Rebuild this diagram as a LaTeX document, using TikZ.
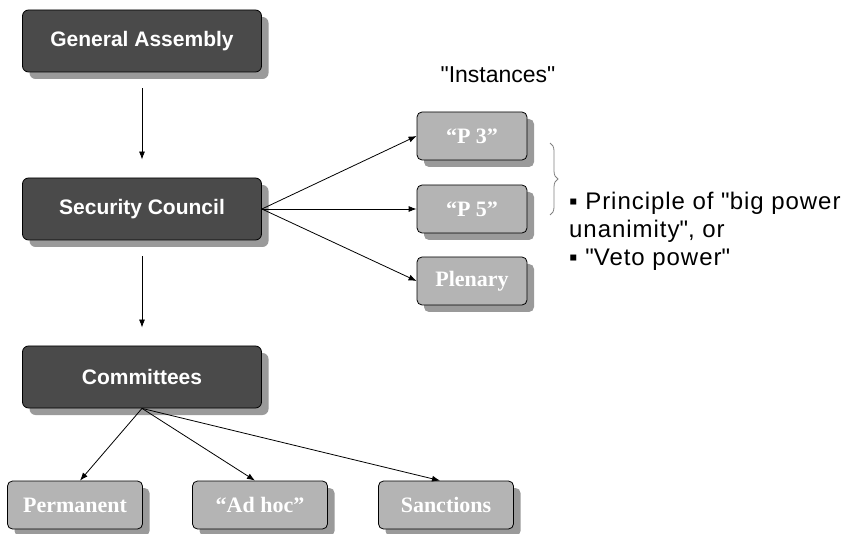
\documentclass[tikz,border=0pt]{standalone}
\usepackage{fontspec}
\setmainfont{Liberation Serif}
\setsansfont{Liberation Sans}
\usetikzlibrary{positioning,arrows.meta,shadows,decorations.pathreplacing}
\definecolor{darkbox}{HTML}{4A4A4A}
\definecolor{lightbox}{HTML}{B4B4B4}
\definecolor{shade}{HTML}{9A9A9A}

\begin{document}
\begin{tikzpicture}[x=1pt, y=-1pt,
  dbox/.style={draw, thick, rounded corners=6pt, fill=darkbox, text=white,
    minimum width=239pt, minimum height=62pt,
    font=\sffamily\bfseries\fontsize{21}{24}\selectfont,
    drop shadow={shadow xshift=7pt, shadow yshift=-7pt, fill=shade, opacity=1}},
  lbox/.style={draw, thick, rounded corners=5pt, fill=lightbox, text=white,
    minimum width=110pt, minimum height=48pt,
    font=\bfseries\fontsize{22}{24}\selectfont,
    drop shadow={shadow xshift=7pt, shadow yshift=-7pt, fill=shade, opacity=1}},
  arr/.style={-{Latex[length=8pt, width=6pt]}, thick}]
\useasboundingbox (0,0) rectangle (851,534);
\node[dbox] (ga) at (142,41) {General Assembly};
\node[dbox] (sc) at (142,209) {Security Council};
\node[dbox] (com) at (142,377) {Committees};
\node[lbox] (p3) at (472,136) {“P 3”};
\node[lbox] (p5) at (472,209) {“P 5”};
\node[lbox] (plen) at (472,281) {Plenary};
\node[lbox, minimum width=135pt] (perm) at (75,505) {Permanent};
\node[lbox, minimum width=135pt] (adhoc) at (260,505) {“Ad hoc”};
\node[lbox, minimum width=135pt] (sanc) at (446,505) {Sanctions};
\node[font=\sffamily\fontsize{23}{26}\selectfont] (inst) at (498,75) {\textquotedbl Instances\textquotedbl};
\node[anchor=north west, align=left, inner sep=0pt,
  font=\sffamily\fontsize{24}{28}\selectfont\addfontfeatures{LetterSpace=4}]
  (veto) at (569,192) {▪ Principle of \textquotedbl big power\\unanimity\textquotedbl, or\\▪ \textquotedbl Veto power\textquotedbl};
\coordinate (bt) at (550,143);
\coordinate (bb) at (550,215);
% connectors
\draw[arr] ([yshift=-16pt]ga.south) -- ([yshift=18pt]sc.north);
\draw[arr] ([yshift=-16pt]sc.south) -- ([yshift=18pt]com.north);
\draw[arr] (sc.east) -- (p3.west);
\draw[arr] (sc.east) -- (p5.west);
\draw[arr] (sc.east) -- (plen.west);
\draw[arr] (com.south) -- ([xshift=5pt]perm.north);
\draw[arr] (com.south) -- ([xshift=-5pt]adhoc.north);
\draw[arr] (com.south) -- ([xshift=-6pt]sanc.north);
\draw[gray, thick, decorate, decoration={brace, amplitude=8pt}] (bt) -- (bb);
\end{tikzpicture}
\end{document}
